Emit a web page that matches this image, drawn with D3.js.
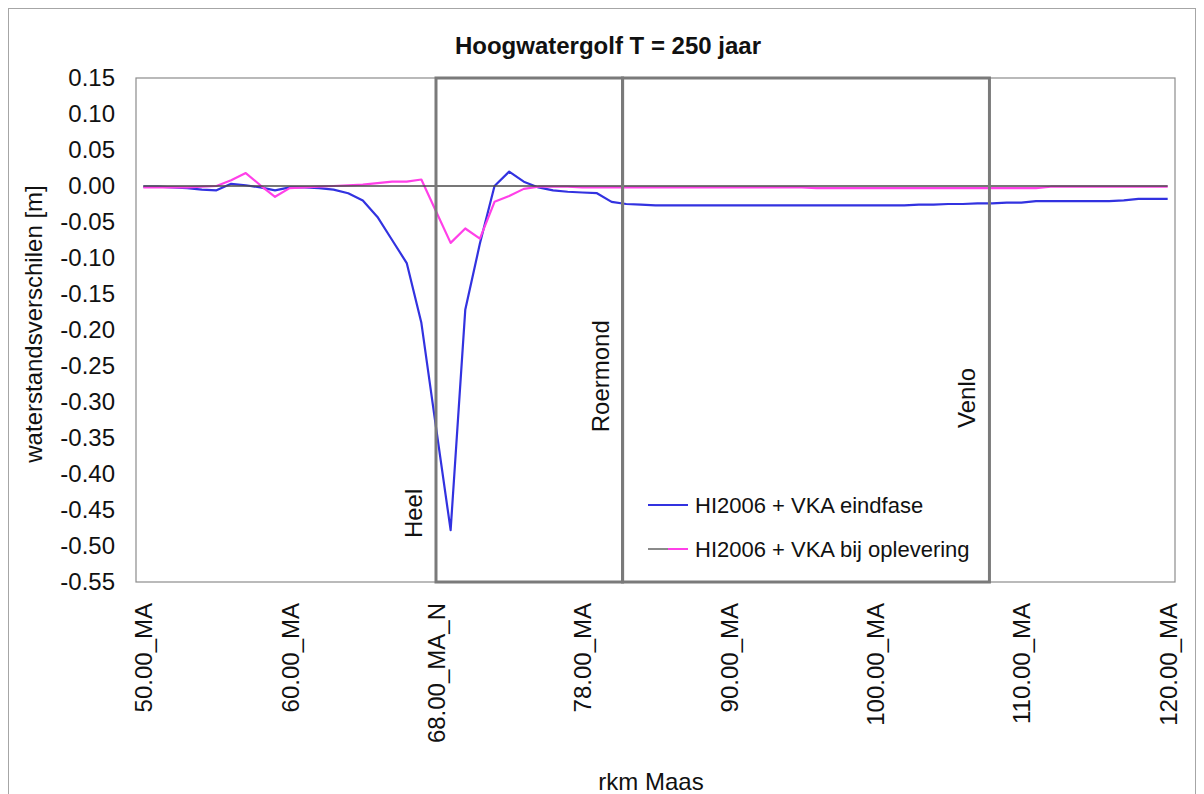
<!DOCTYPE html>
<html>
<head>
<meta charset="utf-8">
<script src="https://cdn.jsdelivr.net/npm/d3@7"></script>
<style>
  html, body { margin: 0; padding: 0; background: #ffffff; }
  svg { display: block; }
  text { font-family: "Liberation Sans", Arial, sans-serif; fill: #111; }
</style>
</head>
<body>
<svg id="chart" width="1204" height="794"></svg>
<script>
// River kilometre points along the Maas (category axis)
const categories = [
  "50.00_MA", "51.00_MA", "52.00_MA", "53.00_MA", "54.00_MA", "55.00_MA", "56.00_MA", "57.00_MA", "58.00_MA", "59.00_MA",
  "60.00_MA", "61.00_MA", "62.00_MA", "63.00_MA", "64.00_MA", "65.00_MA", "66.00_MA", "67.00_MA", "67.00_MA_N", "67.50_MA_N",
  "68.00_MA_N", "69.00_MA", "70.00_MA", "71.00_MA", "72.00_MA", "73.00_MA", "74.00_MA", "75.00_MA", "76.00_MA", "77.00_MA",
  "78.00_MA", "79.00_MA", "80.00_MA", "81.00_MA", "82.00_MA", "84.00_MA", "85.00_MA", "86.00_MA", "88.00_MA", "89.00_MA",
  "90.00_MA", "91.00_MA", "92.00_MA", "93.00_MA", "94.00_MA", "95.00_MA", "96.00_MA", "97.00_MA", "98.00_MA", "99.00_MA",
  "100.00_MA", "101.00_MA", "102.00_MA", "103.00_MA", "104.00_MA", "105.00_MA", "106.00_MA", "107.00_MA", "108.00_MA", "109.00_MA",
  "110.00_MA", "111.00_MA", "112.00_MA", "113.00_MA", "114.00_MA", "115.00_MA", "116.00_MA", "117.00_MA", "118.00_MA", "119.00_MA",
  "120.00_MA"
];

// Labelled kilometre points on the horizontal axis
const tickLabels = ["50.00_MA", "60.00_MA", "68.00_MA_N", "78.00_MA", "90.00_MA", "100.00_MA", "110.00_MA", "120.00_MA"];

// Water level differences [m]
const eindfase = [
  -0.001, -0.001, -0.002, -0.003, -0.005, -0.006, 0.003, 0.001, -0.002, -0.006,
  -0.002, -0.002, -0.003, -0.005, -0.010, -0.020, -0.043, -0.075, -0.107, -0.190,
  -0.335, -0.478, -0.172, -0.080, 0.000, 0.020, 0.006, -0.002, -0.006, -0.008,
  -0.009, -0.010, -0.022, -0.025, -0.026, -0.027, -0.027, -0.027, -0.027, -0.027,
  -0.027, -0.027, -0.027, -0.027, -0.027, -0.027, -0.027, -0.027, -0.027, -0.027,
  -0.027, -0.027, -0.027, -0.026, -0.026, -0.025, -0.025, -0.024, -0.024, -0.023,
  -0.023, -0.021, -0.021, -0.021, -0.021, -0.021, -0.021, -0.020, -0.018, -0.018,
  -0.018
];

const oplevering = [
  -0.002, -0.002, -0.002, -0.002, -0.001, 0.000, 0.008, 0.018, 0.001, -0.015,
  -0.003, -0.002, -0.001, 0.000, 0.001, 0.002, 0.004, 0.006, 0.006, 0.009,
  -0.035, -0.079, -0.059, -0.073, -0.022, -0.014, -0.004, -0.001, -0.001, -0.001,
  -0.002, -0.002, -0.002, -0.002, -0.002, -0.002, -0.002, -0.002, -0.002, -0.002,
  -0.002, -0.002, -0.002, -0.002, -0.002, -0.002, -0.003, -0.003, -0.003, -0.003,
  -0.003, -0.003, -0.003, -0.003, -0.003, -0.003, -0.003, -0.003, -0.003, -0.003,
  -0.003, -0.003, -0.001, -0.001, -0.001, -0.001, -0.001, -0.001, -0.001, -0.001,
  -0.001
];

const seriesNames = ["HI2006 + VKA eindfase", "HI2006 + VKA bij oplevering"];

// Vertical axis ticks [m]
const yTicks = [0.15, 0.10, 0.05, 0.00, -0.05, -0.10, -0.15, -0.20, -0.25, -0.30, -0.35, -0.40, -0.45, -0.50, -0.55];

// Reaches along the river, as positions on the kilometre axis (category index)
const places = ["Heel", "Roermond", "Venlo"];
const placePos = [20, 32.75, 57.82];

// ---------------------------------------------------------------
const svg = d3.select("#chart");
const W = 1204, H = 794;
const plot = { left: 136, top: 78, right: 1175, bottom: 582 };
const FONT = 24;

const x = d3.scaleLinear()
  .domain([-0.5, categories.length - 0.5])
  .range([plot.left, plot.right]);
const y = d3.scaleLinear()
  .domain([d3.min(yTicks), d3.max(yTicks)])
  .range([plot.bottom, plot.top]);

// outer chart frame
svg.append("rect")
  .attr("x", 8.5).attr("y", 8.5)
  .attr("width", W - 17).attr("height", H)
  .attr("fill", "#ffffff")
  .attr("stroke", "#a6a6a6").attr("stroke-width", 1);

// plot area
svg.append("rect")
  .attr("x", plot.left).attr("y", plot.top)
  .attr("width", plot.right - plot.left).attr("height", plot.bottom - plot.top)
  .attr("fill", "#ffffff")
  .attr("stroke", "#8c8c8c").attr("stroke-width", 1.2);

// title
svg.append("text")
  .attr("x", 608).attr("y", 54)
  .attr("text-anchor", "middle")
  .style("font-size", "24px").style("font-weight", "bold")
  .text("Hoogwatergolf T = 250 jaar");

// y axis
const yAxis = svg.append("g")
  .attr("transform", `translate(${plot.left},0)`)
  .call(d3.axisLeft(y).tickValues(yTicks).tickSize(0).tickPadding(21)
    .tickFormat(d => d.toFixed(2)));
yAxis.select(".domain").remove();
yAxis.selectAll("text")
  .style("font-size", FONT + "px")
  .style("font-family", "'Liberation Sans', Arial, sans-serif")
  .attr("fill", "#111");

// x axis (rotated category labels)
const tickIdx = tickLabels.map(l => categories.indexOf(l));
const xAxis = svg.append("g")
  .attr("transform", `translate(0,${plot.bottom})`)
  .call(d3.axisBottom(x).tickValues(tickIdx).tickSize(0)
    .tickFormat((d, i) => tickLabels[i]));
xAxis.select(".domain").remove();
xAxis.selectAll("text")
  .style("font-size", FONT + "px")
  .style("font-family", "'Liberation Sans', Arial, sans-serif")
  .attr("fill", "#111")
  .attr("transform", "rotate(-90)")
  .attr("x", -21).attr("y", 0).attr("dy", "0.35em")
  .style("text-anchor", "end");

// axis titles
svg.append("text")
  .attr("transform", "translate(42,324) rotate(-90)")
  .attr("text-anchor", "middle")
  .style("font-size", FONT + "px")
  .text("waterstandsverschilen [m]");

svg.append("text")
  .attr("x", 651).attr("y", 790)
  .attr("text-anchor", "middle")
  .style("font-size", FONT + "px")
  .text("rkm Maas");

// series lines
const line = d3.line().x((d, i) => x(i)).y(d => y(d));
const colors = ["#3232e0", "#ff40e8"];

svg.append("path")
  .datum(eindfase)
  .attr("d", line)
  .attr("fill", "none").attr("stroke", colors[0]).attr("stroke-width", 2.2)
  .attr("stroke-linejoin", "round");

svg.append("path")
  .datum(oplevering)
  .attr("d", line)
  .attr("fill", "none").attr("stroke", colors[1]).attr("stroke-width", 2.2)
  .attr("stroke-linejoin", "round");

// zero reference line
svg.append("line")
  .attr("x1", x(0)).attr("x2", x(categories.length - 1))
  .attr("y1", y(0)).attr("y2", y(0))
  .attr("stroke", "#4a4a4a").attr("stroke-width", 1.6);

// reach boxes
for (let k = 0; k < placePos.length - 1; k++) {
  svg.append("rect")
    .attr("x", x(placePos[k])).attr("y", y(0.15))
    .attr("width", x(placePos[k + 1]) - x(placePos[k]))
    .attr("height", y(-0.55) - y(0.15))
    .attr("fill", "none")
    .attr("stroke", "#7a7a7a").attr("stroke-width", 3);
}

// reach names, written upwards just left of each boundary
const placeLabelLevel = [-0.489, -0.342, -0.336];
places.forEach((p, k) => {
  svg.append("text")
    .attr("transform", `translate(${x(placePos[k]) - 14},${y(placeLabelLevel[k])}) rotate(-90)`)
    .attr("text-anchor", "start")
    .style("font-size", FONT + "px")
    .text(p);
});

// legend
const legend = svg.append("g").attr("transform", "translate(648,505)");
seriesNames.forEach((name, k) => {
  const g = legend.append("g").attr("transform", `translate(0,${k * 44})`);
  if (k === 1) {
    g.append("line").attr("x1", 0).attr("x2", 20).attr("y1", 0).attr("y2", 0)
      .attr("stroke", "#8a8a8a").attr("stroke-width", 2);
    g.append("line").attr("x1", 20).attr("x2", 40).attr("y1", 0).attr("y2", 0)
      .attr("stroke", colors[k]).attr("stroke-width", 2);
  } else {
    g.append("line").attr("x1", 0).attr("x2", 40).attr("y1", 0).attr("y2", 0)
      .attr("stroke", colors[k]).attr("stroke-width", 2);
  }
  g.append("text")
    .attr("x", 47).attr("y", 0).attr("dy", "0.35em")
    .style("font-size", "22px")
    .text(name);
});
</script>
</body>
</html>
